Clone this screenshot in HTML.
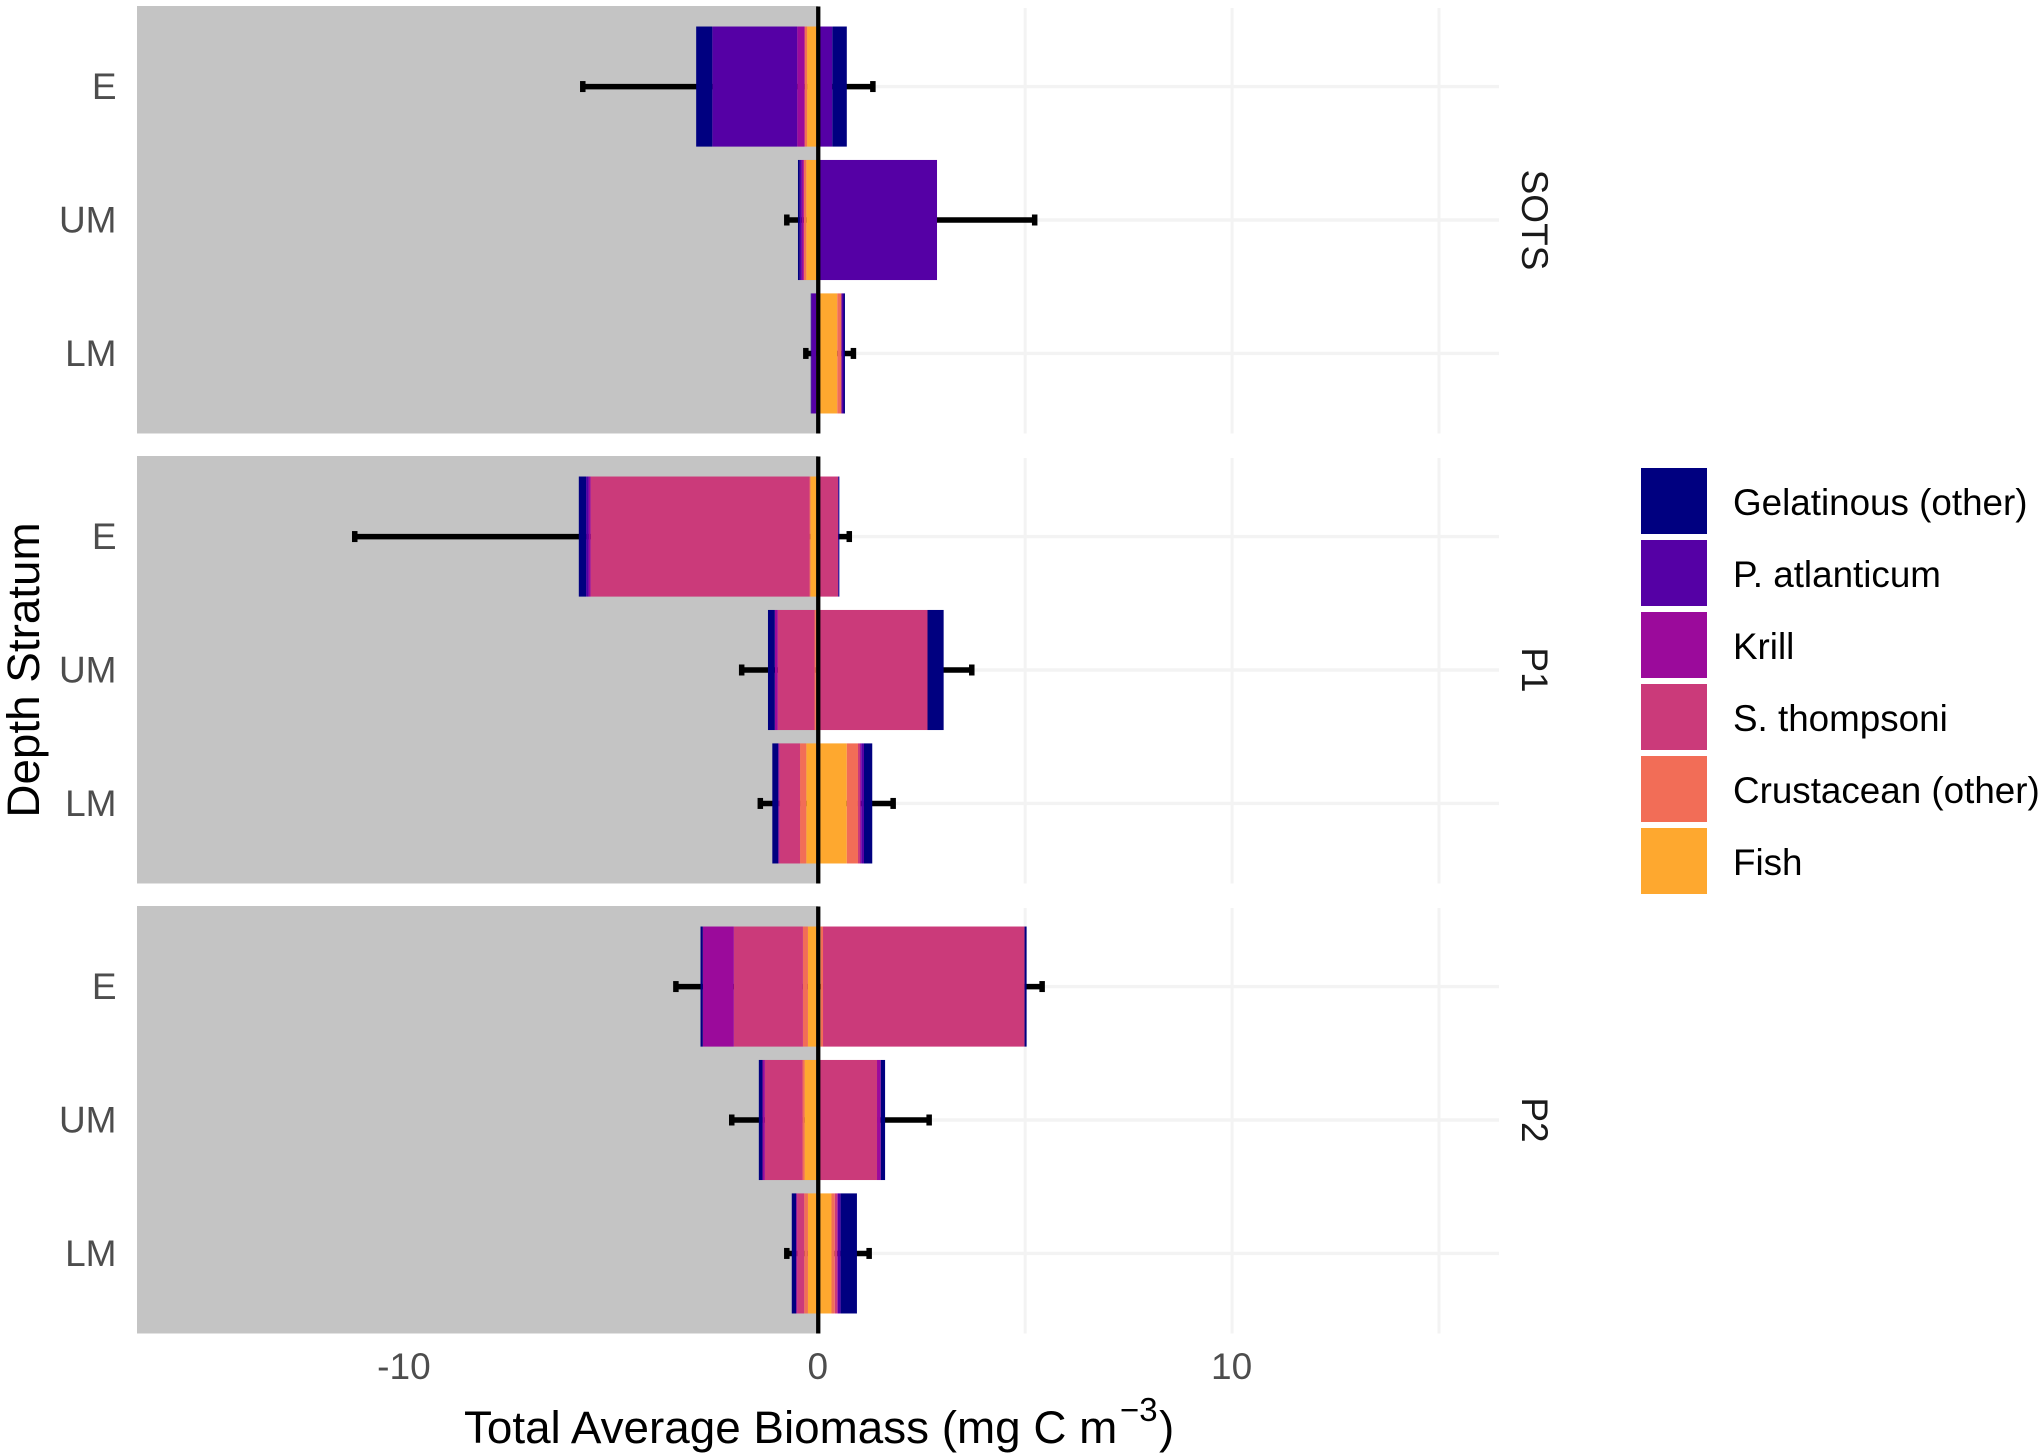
<!DOCTYPE html>
<html lang="en">
<head>
<meta charset="utf-8">
<title>Total Average Biomass by Depth Stratum</title>
<style>
  html, body { margin: 0; padding: 0; background: #ffffff; }
  svg { display: block; }
  text { font-family: "Liberation Sans", Arial, sans-serif; }
</style>
</head>
<body>
<svg id="chart" xmlns="http://www.w3.org/2000/svg" width="2040" height="1456" viewBox="0 0 2040 1456"></svg>
<script>
// ---- Data (mg C m-3) ----
const facets = ['SOTS', 'P1', 'P2'];
const strata = ['E', 'UM', 'LM'];
const taxa = ['Gelatinous (other)', 'P. atlanticum', 'Krill', 'S. thompsoni', 'Crustacean (other)', 'Fish'];
const taxaColors = ['#000080', '#5500a5', '#9b0a9b', '#cb3a7a', '#f26d57', '#fea82f'];
const xTickLabels = ['-10', '0', '10'];
const xTickValues = [-10, 0, 10];
const xGridValues = [-15, -10, -5, 0, 5, 10, 15];

// Rows: SOTS E, UM, LM, P1 E, UM, LM, P2 E, UM, LM
const gelatinousLeft  = [0.39, 0.04, 0.01, 0.176, 0.165, 0.14, 0.055, 0.09, 0.105];
const atlanticumLeft  = [2.05, 0.05, 0.12, 0.06, 0, 0.01, 0, 0, 0];
const krillLeft       = [0.18, 0.05, 0, 0.05, 0.07, 0.02, 0.75, 0.056, 0.025];
const thompsoniLeft   = [0, 0, 0, 5.29, 0.89, 0.5, 1.67, 0.91, 0.17];
const crustaceanLeft  = [0.06, 0.06, 0, 0.02, 0.03, 0.15, 0.12, 0.05, 0.09];
const fishLeft        = [0.27, 0.29, 0.05, 0.19, 0.06, 0.29, 0.25, 0.33, 0.25];

const gelatinousRight = [0.35, 0, 0.035, 0.02, 0.39, 0.2, 0.05, 0.105, 0.395];
const atlanticumRight = [0.3, 2.83, 0.05, 0.01, 0, 0.065, 0, 0, 0.065];
const krillRight      = [0, 0, 0, 0, 0, 0.03, 0, 0.09, 0.02];
const thompsoniRight  = [0, 0, 0, 0.46, 2.62, 0.05, 4.87, 1.38, 0.055];
const crustaceanRight = [0, 0, 0.1, 0, 0, 0.27, 0.055, 0.01, 0.08];
const fishRight       = [0.04, 0.04, 0.46, 0.02, 0.02, 0.69, 0.06, 0.03, 0.32];

const errorLow  = [-5.69, -0.76, -0.30, -11.2, -1.85, -1.40, -3.44, -2.09, -0.76];
const errorHigh = [1.32, 5.23, 0.85, 0.75, 3.71, 1.81, 5.41, 2.68, 1.23];

const leftStacks  = [gelatinousLeft, atlanticumLeft, krillLeft, thompsoniLeft, crustaceanLeft, fishLeft];
const rightStacks = [gelatinousRight, atlanticumRight, krillRight, thompsoniRight, crustaceanRight, fishRight];

// ---- Layout ----
const NS = 'http://www.w3.org/2000/svg';
const svg = document.getElementById('chart');
const plotLeft = 137.5, plotRight = 1499;
const domainMin = -16.45, domainMax = 16.45;
const panelHeight = 427, panelPitch = 450, firstPanelTop = 6.5;
const bandStep = panelHeight / 3.2, barHeight = bandStep * 0.9;

function x(v) {
  return plotLeft + (v - domainMin) / (domainMax - domainMin) * (plotRight - plotLeft);
}
function panelTop(f) {
  return firstPanelTop + f * panelPitch;
}
function y(f, s) {
  return panelTop(f) + (0.6 + s) * bandStep;
}
function el(tag, attrs, parent) {
  const node = document.createElementNS(NS, tag);
  for (const k in attrs) node.setAttribute(k, attrs[k]);
  (parent || svg).appendChild(node);
  return node;
}
function group(parent) {
  return el('g', {}, parent);
}

// ---- Panels ----
facets.forEach(function (facet, f) {
  const top = panelTop(f), bottom = top + panelHeight;
  const panel = group();
  
  

  // gridlines
  xGridValues.forEach(function (v) {
    const line = el('line', { x1: x(v), x2: x(v), y1: top + 1.5, y2: bottom, stroke: '#f3f3f3', 'stroke-width': 3 }, panel);
    
    
  });
  strata.forEach(function (st, s) {
    const line = el('line', { x1: plotLeft, x2: plotRight, y1: y(f, s), y2: y(f, s), stroke: '#f3f3f3', 'stroke-width': 3.4 }, panel);
    
    
  });

  // grey negative half
  const shade = el('rect', { x: plotLeft - 0.5, y: top - 0.5, width: x(0) - plotLeft + 0.5, height: panelHeight + 0.5, fill: '#c4c4c4' }, panel);
  
  

  strata.forEach(function (st, s) {
    const row = f * strata.length + s;
    const cy = y(f, s);

    // error bars sit beneath the bars
    const err = group(panel);
    
    
    el('line', { x1: x(errorLow[row]), x2: x(errorHigh[row]), y1: cy, y2: cy, stroke: '#000', 'stroke-width': 5.5 }, err);
    el('line', { x1: x(errorLow[row]), x2: x(errorLow[row]), y1: cy - 5.5, y2: cy + 5.5, stroke: '#000', 'stroke-width': 5.5 }, err);
    el('line', { x1: x(errorHigh[row]), x2: x(errorHigh[row]), y1: cy - 5.5, y2: cy + 5.5, stroke: '#000', 'stroke-width': 5.5 }, err);

    // stacked bars, drawn outward from zero (Fish nearest zero)
    let negEdge = 0, posEdge = 0;
    for (let t = taxa.length - 1; t >= 0; t--) {
      const nv = leftStacks[t][row];
      if (nv > 0) {
        const r = el('rect', { x: x(negEdge - nv), y: cy - barHeight / 2, width: x(negEdge) - x(negEdge - nv), height: barHeight, fill: taxaColors[t] }, panel);
        
        
        negEdge -= nv;
      }
      const pv = rightStacks[t][row];
      if (pv > 0) {
        const r = el('rect', { x: x(posEdge), y: cy - barHeight / 2, width: x(posEdge + pv) - x(posEdge), height: barHeight, fill: taxaColors[t] }, panel);
        
        
        posEdge += pv;
      }
    }

    // y tick label
    const lbl = el('text', { x: 116.5, y: cy + 12.5, 'text-anchor': 'end', 'font-size': 37, fill: '#4d4d4d' }, panel);
    lbl.textContent = st;
    
    
  });

  // zero line
  const zero = el('line', { x1: x(0), x2: x(0), y1: top, y2: bottom, stroke: '#000', 'stroke-width': 4.3 }, panel);
  
  

  // facet strip label
  const cyMid = top + panelHeight / 2;
  const strip = el('text', { transform: 'translate(1522,' + cyMid + ') rotate(90)', 'text-anchor': 'middle', 'font-size': 37, fill: '#1a1a1a' }, panel);
  strip.textContent = facet;
  
  
});

// ---- X axis ----
xTickValues.forEach(function (v, i) {
  const t = el('text', { x: x(v) - 0.5, y: 1379, 'text-anchor': 'middle', 'font-size': 37, fill: '#4d4d4d' });
  t.textContent = xTickLabels[i];
  
  
});

const xTitle = el('text', { x: 464, y: 1443, 'font-size': 45.8, fill: '#000' });
xTitle.textContent = 'Total Average Biomass (mg C m';



const xTitleExp = el('text', { x: 1120, y: 1421, 'font-size': 33, fill: '#000' });
xTitleExp.textContent = '\u22123';



const xTitleEnd = el('text', { x: 1159, y: 1443, 'font-size': 45.8, fill: '#000' });
xTitleEnd.textContent = ')';



// ---- Y axis title ----
const yTitle = el('text', { transform: 'translate(39,670) rotate(-90)', 'text-anchor': 'middle', 'font-size': 45.8, fill: '#000' });
yTitle.textContent = 'Depth Stratum';



// ---- Legend ----
const legend = group();


taxa.forEach(function (name, i) {
  const entry = group(legend);
  
  
  const key = el('rect', { x: 1641, y: 468 + i * 72, width: 66, height: 66, fill: taxaColors[i] }, entry);
  
  
  const label = el('text', { x: 1733, y: 515 + i * 72, 'font-size': 36.8, fill: '#000' }, entry);
  label.textContent = name;
  
  
});
</script>
</body>
</html>
